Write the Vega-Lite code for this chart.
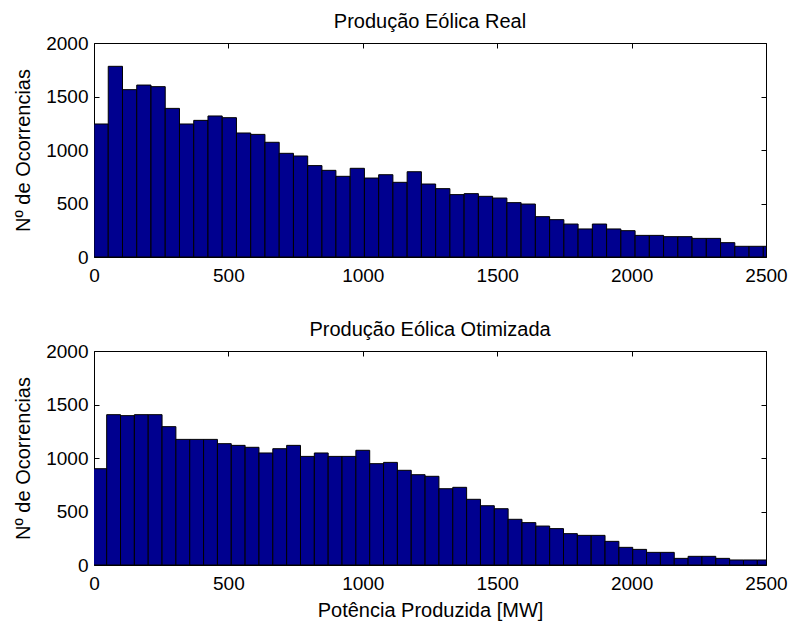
{
  "$schema": "https://vega.github.io/schema/vega-lite/v6.json",
  "padding": {"left": 12, "top": 11, "right": 0, "bottom": 0},
  "background": "white",
  "bounds": "flush",
  "spacing": 94,
  "config": {
    "view": {"stroke": "black", "strokeWidth": 1},
    "font": "Liberation Sans",
    "axis": {"grid": false, "domain": false, "tickColor": "black", "tickSize": -5, "tickWidth": 1,
      "labelColor": "black", "labelFontSize": 19, "labelFont": "Liberation Sans",
      "titleFont": "Liberation Sans", "titleFontSize": 20, "titleFontWeight": "normal", "titleColor": "black",
      "labelFlush": false, "labelOverlap": false, "format": "d"},
    "title": {"font": "Liberation Sans", "fontSize": 20, "fontWeight": "normal", "color": "black"}
  },
  "datasets": {
    "real": [
      {"x0": 0, "x1": 53, "n": 1243}, {"x0": 53, "x1": 106, "n": 1782}, {"x0": 106, "x1": 159, "n": 1564},
      {"x0": 159, "x1": 212, "n": 1607}, {"x0": 212, "x1": 265, "n": 1592}, {"x0": 265, "x1": 318, "n": 1389},
      {"x0": 318, "x1": 371, "n": 1243}, {"x0": 371, "x1": 424, "n": 1277}, {"x0": 424, "x1": 477, "n": 1318},
      {"x0": 477, "x1": 530, "n": 1302}, {"x0": 530, "x1": 583, "n": 1159}, {"x0": 583, "x1": 636, "n": 1146},
      {"x0": 636, "x1": 689, "n": 1072}, {"x0": 689, "x1": 742, "n": 969}, {"x0": 742, "x1": 795, "n": 944},
      {"x0": 795, "x1": 848, "n": 854}, {"x0": 848, "x1": 900, "n": 810}, {"x0": 900, "x1": 953, "n": 754},
      {"x0": 953, "x1": 1006, "n": 829}, {"x0": 1006, "x1": 1059, "n": 738}, {"x0": 1059, "x1": 1112, "n": 769},
      {"x0": 1112, "x1": 1165, "n": 698}, {"x0": 1165, "x1": 1218, "n": 797}, {"x0": 1218, "x1": 1271, "n": 682},
      {"x0": 1271, "x1": 1324, "n": 639}, {"x0": 1324, "x1": 1377, "n": 583}, {"x0": 1377, "x1": 1430, "n": 592},
      {"x0": 1430, "x1": 1483, "n": 567}, {"x0": 1483, "x1": 1536, "n": 551}, {"x0": 1536, "x1": 1589, "n": 508},
      {"x0": 1589, "x1": 1642, "n": 495}, {"x0": 1642, "x1": 1695, "n": 377}, {"x0": 1695, "x1": 1748, "n": 349},
      {"x0": 1748, "x1": 1801, "n": 308}, {"x0": 1801, "x1": 1854, "n": 262}, {"x0": 1854, "x1": 1907, "n": 308},
      {"x0": 1907, "x1": 1960, "n": 262}, {"x0": 1960, "x1": 2013, "n": 246}, {"x0": 2013, "x1": 2066, "n": 202},
      {"x0": 2066, "x1": 2119, "n": 202}, {"x0": 2119, "x1": 2172, "n": 190}, {"x0": 2172, "x1": 2225, "n": 190},
      {"x0": 2225, "x1": 2278, "n": 174}, {"x0": 2278, "x1": 2331, "n": 174}, {"x0": 2331, "x1": 2384, "n": 134},
      {"x0": 2384, "x1": 2437, "n": 100}, {"x0": 2437, "x1": 2490, "n": 100}, {"x0": 2490, "x1": 2543, "n": 100}
    ],
    "otim": [
      {"x0": -4.3, "x1": 47.2, "n": 900}, {"x0": 47.2, "x1": 98.7, "n": 1405}, {"x0": 98.7, "x1": 150.2, "n": 1396},
      {"x0": 150.2, "x1": 201.7, "n": 1405}, {"x0": 201.7, "x1": 253.2, "n": 1405}, {"x0": 253.2, "x1": 304.7, "n": 1293},
      {"x0": 304.7, "x1": 356.2, "n": 1174}, {"x0": 356.2, "x1": 407.7, "n": 1174}, {"x0": 407.7, "x1": 459.2, "n": 1174},
      {"x0": 459.2, "x1": 510.7, "n": 1134}, {"x0": 510.7, "x1": 562.2, "n": 1118}, {"x0": 562.2, "x1": 613.7, "n": 1100},
      {"x0": 613.7, "x1": 665.2, "n": 1047}, {"x0": 665.2, "x1": 716.7, "n": 1087}, {"x0": 716.7, "x1": 768.2, "n": 1118},
      {"x0": 768.2, "x1": 819.7, "n": 1015}, {"x0": 819.7, "x1": 871.2, "n": 1047}, {"x0": 871.2, "x1": 922.7, "n": 1015},
      {"x0": 922.7, "x1": 974.2, "n": 1015}, {"x0": 974.2, "x1": 1025.7, "n": 1072}, {"x0": 1025.7, "x1": 1077.2, "n": 947},
      {"x0": 1077.2, "x1": 1128.7, "n": 959}, {"x0": 1128.7, "x1": 1180.2, "n": 885}, {"x0": 1180.2, "x1": 1231.7, "n": 844},
      {"x0": 1231.7, "x1": 1283.2, "n": 829}, {"x0": 1283.2, "x1": 1334.7, "n": 713}, {"x0": 1334.7, "x1": 1386.2, "n": 726},
      {"x0": 1386.2, "x1": 1437.7, "n": 614}, {"x0": 1437.7, "x1": 1489.2, "n": 554}, {"x0": 1489.2, "x1": 1540.7, "n": 526},
      {"x0": 1540.7, "x1": 1592.2, "n": 427}, {"x0": 1592.2, "x1": 1643.7, "n": 396}, {"x0": 1643.7, "x1": 1695.2, "n": 364},
      {"x0": 1695.2, "x1": 1746.7, "n": 340}, {"x0": 1746.7, "x1": 1798.2, "n": 293}, {"x0": 1798.2, "x1": 1849.7, "n": 277},
      {"x0": 1849.7, "x1": 1901.2, "n": 277}, {"x0": 1901.2, "x1": 1952.7, "n": 221}, {"x0": 1952.7, "x1": 2004.2, "n": 165},
      {"x0": 2004.2, "x1": 2055.7, "n": 146}, {"x0": 2055.7, "x1": 2107.2, "n": 118}, {"x0": 2107.2, "x1": 2158.7, "n": 118},
      {"x0": 2158.7, "x1": 2210.2, "n": 62}, {"x0": 2210.2, "x1": 2261.7, "n": 81}, {"x0": 2261.7, "x1": 2313.2, "n": 81},
      {"x0": 2313.2, "x1": 2364.7, "n": 62}, {"x0": 2364.7, "x1": 2416.2, "n": 47}, {"x0": 2416.2, "x1": 2467.7, "n": 47},
      {"x0": 2467.7, "x1": 2519.2, "n": 47}
    ]
  },
  "vconcat": [
    {
      "width": 672, "height": 214,
      "title": {"text": "Produção Eólica Real", "frame": "group", "anchor": "middle", "baseline": "alphabetic", "offset": -14},
      "data": {"name": "real"},
      "layer": [
        {
          "mark": {"type": "rect", "fill": "#00008F", "stroke": "black", "strokeWidth": 1, "clip": true},
          "encoding": {
            "x": {"field": "x0", "type": "quantitative", "scale": {"domain": [0, 2500], "nice": false, "zero": false},
              "axis": {"orient": "bottom", "values": [0, 500, 1000, 1500, 2000, 2500], "title": null, "labelPadding": 14}},
            "x2": {"field": "x1"},
            "y": {"field": "n", "type": "quantitative", "scale": {"domain": [0, 2000], "nice": false},
              "axis": {"orient": "left", "values": [0, 500, 1000, 1500, 2000], "title": "Nº de Ocorrencias",
                "titleX": -65, "titleY": 107, "titleAngle": -90, "titleAlign": "center", "titleBaseline": "alphabetic", "labelPadding": 11}},
            "y2": {"datum": 0}
          }
        },
        {
          "mark": {"type": "rect", "opacity": 0, "clip": true},
          "encoding": {
            "x": {"field": "x0", "type": "quantitative", "axis": {"orient": "top", "values": [0, 500, 1000, 1500, 2000, 2500], "labels": false, "title": null}},
            "x2": {"field": "x1"},
            "y": {"field": "n", "type": "quantitative", "axis": {"orient": "right", "values": [0, 500, 1000, 1500, 2000], "labels": false, "title": null}},
            "y2": {"datum": 0}
          }
        }
      ],
      "resolve": {"axis": {"x": "independent", "y": "independent"}}
    },
    {
      "width": 672, "height": 214,
      "title": {"text": "Produção Eólica Otimizada", "frame": "group", "anchor": "middle", "baseline": "alphabetic", "offset": -14},
      "data": {"name": "otim"},
      "layer": [
        {
          "mark": {"type": "rect", "fill": "#00008F", "stroke": "black", "strokeWidth": 1, "clip": true},
          "encoding": {
            "x": {"field": "x0", "type": "quantitative", "scale": {"domain": [0, 2500], "nice": false, "zero": false},
              "axis": {"orient": "bottom", "values": [0, 500, 1000, 1500, 2000, 2500], "title": "Potência Produzida [MW]",
                "titleY": 51, "titleBaseline": "alphabetic", "labelPadding": 14}},
            "x2": {"field": "x1"},
            "y": {"field": "n", "type": "quantitative", "scale": {"domain": [0, 2000], "nice": false},
              "axis": {"orient": "left", "values": [0, 500, 1000, 1500, 2000], "title": "Nº de Ocorrencias",
                "titleX": -65, "titleY": 107, "titleAngle": -90, "titleAlign": "center", "titleBaseline": "alphabetic", "labelPadding": 11}},
            "y2": {"datum": 0}
          }
        },
        {
          "mark": {"type": "rect", "opacity": 0, "clip": true},
          "encoding": {
            "x": {"field": "x0", "type": "quantitative", "axis": {"orient": "top", "values": [0, 500, 1000, 1500, 2000, 2500], "labels": false, "title": null}},
            "x2": {"field": "x1"},
            "y": {"field": "n", "type": "quantitative", "axis": {"orient": "right", "values": [0, 500, 1000, 1500, 2000], "labels": false, "title": null}},
            "y2": {"datum": 0}
          }
        }
      ],
      "resolve": {"axis": {"x": "independent", "y": "independent"}}
    }
  ]
}
